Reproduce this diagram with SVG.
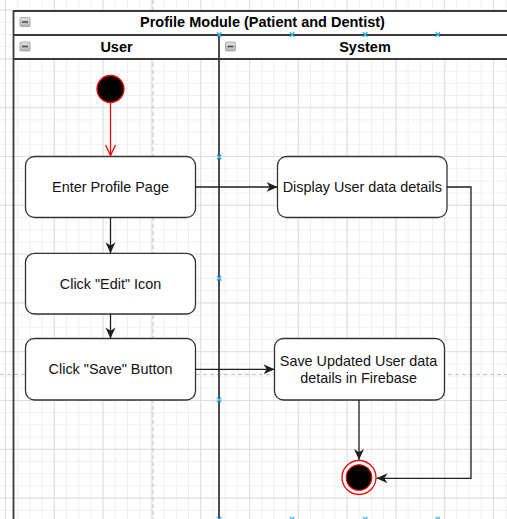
<svg xmlns="http://www.w3.org/2000/svg" width="507" height="519" viewBox="0 0 507 519">
  <style>
    .txt { font-family: "Liberation Sans", Arial, sans-serif; font-size: 14.4px; fill: #111; text-anchor: middle; }
    .hdr { font-family: "Liberation Sans", Arial, sans-serif; font-size: 14.5px; font-weight: bold; fill: #000; text-anchor: middle; }
    .box { fill: #fff; stroke: #333; stroke-width: 1.3; }
    .pool { stroke: #3a3a3a; stroke-width: 1.8; fill: none; }
    .conn { stroke: #1f1f1f; stroke-width: 1.3; fill: none; }
    .red { stroke: #ff0000; stroke-width: 1.3; fill: none; }
    .brk { stroke: #c4c4c4; stroke-width: 1; stroke-dasharray: 4 3; fill: none; }
    .mk { stroke: #29b6f2; stroke-width: 1.4; fill: none; }
    .icon { fill: url(#iconGrad); stroke: #a0a0a0; stroke-width: 0.8; }
    .iconbar { stroke: #505050; stroke-width: 1.6; }
  </style>
  <defs>
    <pattern id="minor" patternUnits="userSpaceOnUse" x="5" y="9.6" width="12.2" height="12.2">
      <path d="M0 0.5 H12.2 M0.5 0 V12.2" stroke="#efefef" stroke-width="1" fill="none"/>
    </pattern>
    <pattern id="major" patternUnits="userSpaceOnUse" x="5" y="9.6" width="48.8" height="48.8">
      <path d="M0 0.5 H48.8 M0.5 0 V48.8" stroke="#dedede" stroke-width="1" fill="none"/>
    </pattern>
    <linearGradient id="iconGrad" x1="0" y1="0" x2="0" y2="1">
      <stop offset="0" stop-color="#e2e2e2"/>
      <stop offset="1" stop-color="#b4b4b4"/>
    </linearGradient>
    <marker id="arrow" markerUnits="userSpaceOnUse" viewBox="0 0 11 11" refX="11" refY="5.5" markerWidth="11" markerHeight="11" orient="auto">
      <path d="M0,0.5 L11,5.5 L0,10.5 L3.2,5.5 Z" fill="#1f1f1f"/>
    </marker>
  </defs>

  <!-- background + grid -->
  <rect x="0" y="0" width="507" height="519" fill="#ffffff"/>
  <rect x="0" y="0" width="507" height="519" fill="url(#minor)"/>
  <rect x="0" y="0" width="507" height="519" fill="url(#major)"/>

  <!-- page break lines -->
  <path class="brk" d="M153 0 V519"/>
  <path class="brk" d="M0 374.5 H507"/>

  <!-- pool -->
  <g id="pool">
    <rect x="13.5" y="11" width="498" height="48" fill="#ffffff"/>
    <path class="pool" d="M13.5 11 H511 M13.5 35 H511 M13.5 59 H511 M13.5 10.2 V519 M219 35 V519"/>
    <rect class="icon" x="20" y="17.5" width="10" height="9" rx="1"/>
    <path class="iconbar" d="M22 22 H28"/>
    <text class="hdr" x="262.5" y="27.4">Profile Module (Patient and Dentist)</text>
  </g>
  <g id="lane-user">
    <rect class="icon" x="20" y="42" width="10" height="9" rx="1"/>
    <path class="iconbar" d="M22 46.5 H28"/>
    <text class="hdr" x="116.5" y="51.7">User</text>
  </g>
  <g id="lane-system">
    <rect class="icon" x="225.5" y="42" width="10" height="9" rx="1"/>
    <path class="iconbar" d="M227.5 46.5 H233.5"/>
    <text class="hdr" x="365" y="51.7">System</text>
  </g>

  <!-- nodes -->
  <g id="start">
    <circle cx="110.5" cy="89" r="13.5" fill="#000" stroke="#ff0000" stroke-width="1.3"/>
  </g>
  <g id="enter-profile">
    <rect class="box" x="25.5" y="156.5" width="170" height="61" rx="9"/>
    <text class="txt" x="110.5" y="192">Enter Profile Page</text>
  </g>
  <g id="display-user">
    <rect class="box" x="277.5" y="156.5" width="169.5" height="61" rx="9"/>
    <text class="txt" x="362.3" y="192">Display User data details</text>
  </g>
  <g id="click-edit">
    <rect class="box" x="25.5" y="253.3" width="170" height="60.7" rx="9"/>
    <text class="txt" x="110.5" y="288.5">Click "Edit" Icon</text>
  </g>
  <g id="click-save">
    <rect class="box" x="25.5" y="338.5" width="170" height="61.5" rx="9"/>
    <text class="txt" x="110.5" y="374">Click "Save" Button</text>
  </g>
  <g id="save-updated">
    <rect class="box" x="274.5" y="338.5" width="170" height="61.5" rx="9"/>
    <text class="txt" x="358.6" y="365.7">Save Updated User data</text>
    <text class="txt" x="358.6" y="382.7">details in Firebase</text>
  </g>
  <g id="end">
    <circle cx="359" cy="477.5" r="17" fill="#fff" stroke="#ff0000" stroke-width="1.3"/>
    <circle cx="359" cy="477.5" r="12.8" fill="#000" stroke="#ff0000" stroke-width="1.1"/>
  </g>

  <!-- connectors -->
  <g id="connectors">
    <path class="red" d="M110.5 102.5 V155.5"/>
    <path class="red" d="M105.5 145 L110.5 155.5 L115.5 145"/>
    <path class="conn" d="M195.5 187 H277.5" marker-end="url(#arrow)"/>
    <path class="conn" d="M110.5 217.5 V253.3" marker-end="url(#arrow)"/>
    <path class="conn" d="M110.5 314 V338.5" marker-end="url(#arrow)"/>
    <path class="conn" d="M195.5 369.3 H274.5" marker-end="url(#arrow)"/>
    <path class="conn" d="M359 400 V460" marker-end="url(#arrow)"/>
    <path class="conn" d="M447 187 H471 V478.3 H376.5" marker-end="url(#arrow)"/>
  </g>

  <!-- selection markers -->
  <g id="markers">
    <path class="mk" d="M217 32.3 L221.4 36.7 M221.4 32.3 L217 36.7"/>
    <path class="mk" d="M290 32.3 L294.4 36.7 M294.4 32.3 L290 36.7"/>
    <path class="mk" d="M363 32.3 L367.4 36.7 M367.4 32.3 L363 36.7"/>
    <path class="mk" d="M435.6 32.3 L440 36.7 M440 32.3 L435.6 36.7"/>
    <path class="mk" d="M217 154.8 L221.4 159.2 M221.4 154.8 L217 159.2"/>
    <path class="mk" d="M217 276.1 L221.4 280.5 M221.4 276.1 L217 280.5"/>
    <path class="mk" d="M217 397.6 L221.4 402 M221.4 397.6 L217 402"/>
    <path class="mk" d="M217 517 L221.4 521.4 M221.4 517 L217 521.4"/>
    <path class="mk" d="M290 517 L294.4 521.4 M294.4 517 L290 521.4"/>
    <path class="mk" d="M363 517 L367.4 521.4 M367.4 517 L363 521.4"/>
    <path class="mk" d="M435.6 517 L440 521.4 M440 517 L435.6 521.4"/>
  </g>
</svg>
